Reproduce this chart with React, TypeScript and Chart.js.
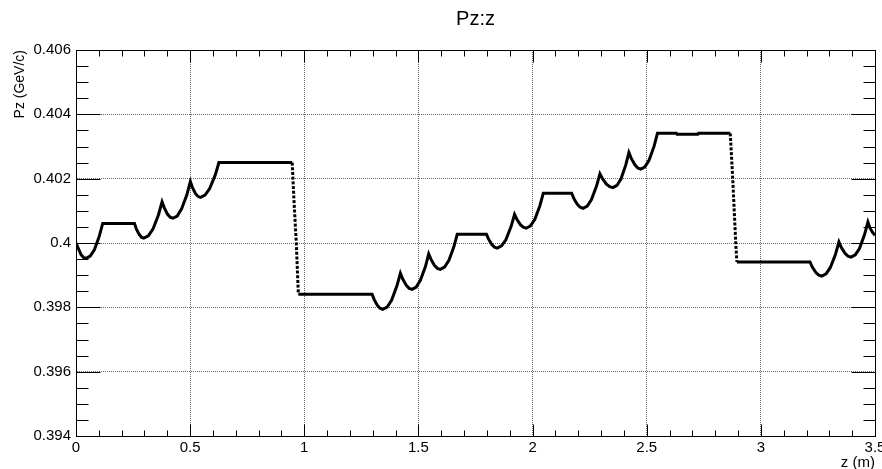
import React, { useEffect, useRef } from "react";
import { Chart, registerables } from "chart.js";

Chart.register(...registerables);

// ---- data (z in m, Pz in GeV/c) ----
const segment1: [number, number][] = [
  [0, 0.4], [0.022, 0.39964], [0.033, 0.39955], [0.044, 0.39952], [0.0623, 0.39959], [0.0805, 0.39979],
  [0.1024, 0.40022], [0.117, 0.40061], [0.256, 0.40061],
  [0.2642, 0.40044], [0.2765, 0.40027], [0.2868, 0.40018], [0.297, 0.40015], [0.317, 0.40022],
  [0.337, 0.40043], [0.361, 0.40087], [0.377, 0.40128],
  [0.3864, 0.4011], [0.4005, 0.4009], [0.4123, 0.4008], [0.424, 0.40077], [0.4433, 0.40084],
  [0.4625, 0.40106], [0.4856, 0.4015], [0.501, 0.40191],
  [0.5098, 0.40173], [0.523, 0.40154], [0.534, 0.40145], [0.545, 0.40142], [0.5653, 0.40149],
  [0.5855, 0.40169], [0.6098, 0.40211], [0.626, 0.4025], [0.947, 0.4025],
];

const drop1: [number, number][] = [
  [0.947, 0.4025], [0.955, 0.4013], [0.965, 0.4], [0.974, 0.39841],
];

const segment2: [number, number][] = [
  [0.974, 0.39841], [1.297, 0.39841],
  [1.3063, 0.39824], [1.3203, 0.39806], [1.3319, 0.39797], [1.3435, 0.39794], [1.3629, 0.39801],
  [1.3823, 0.39822], [1.4055, 0.39866], [1.421, 0.39906],
  [1.4312, 0.39888], [1.4465, 0.39869], [1.4593, 0.39859], [1.472, 0.39856], [1.4903, 0.39863],
  [1.5085, 0.39884], [1.5304, 0.39926], [1.545, 0.39966],
  [1.5552, 0.39949], [1.5705, 0.3993], [1.5833, 0.39921], [1.596, 0.39918], [1.6145, 0.39925],
  [1.633, 0.39945], [1.6552, 0.39988], [1.67, 0.40027], [1.798, 0.40027],
  [1.8074, 0.40012], [1.8215, 0.39995], [1.8333, 0.39987], [1.845, 0.39984], [1.864, 0.39991],
  [1.883, 0.4001], [1.9058, 0.40051], [1.921, 0.40089],
  [1.9312, 0.40074], [1.9465, 0.40057], [1.9593, 0.40049], [1.972, 0.40046], [1.9908, 0.40053],
  [2.0095, 0.40073], [2.032, 0.40116], [2.047, 0.40155], [2.171, 0.40155],
  [2.181, 0.40138], [2.196, 0.4012], [2.2085, 0.40111], [2.221, 0.40108], [2.2395, 0.40115],
  [2.258, 0.40135], [2.2802, 0.40177], [2.295, 0.40215],
  [2.3064, 0.402], [2.3235, 0.40183], [2.3378, 0.40175], [2.352, 0.40172], [2.3695, 0.40179],
  [2.387, 0.40199], [2.408, 0.40242], [2.422, 0.40281],
  [2.4324, 0.40263], [2.448, 0.40243], [2.461, 0.40233], [2.474, 0.4023], [2.4923, 0.40237],
  [2.5105, 0.40258], [2.5324, 0.40301], [2.547, 0.40341],
  [2.63, 0.40341], [2.633, 0.40338], [2.724, 0.40338], [2.727, 0.40341], [2.866, 0.40341],
];

const drop2: [number, number][] = [
  [2.866, 0.40341], [2.877, 0.40196], [2.89, 0.4], [2.895, 0.39941],
];

const segment3: [number, number][] = [
  [2.895, 0.39941], [3.215, 0.39941],
  [3.2254, 0.39925], [3.241, 0.39908], [3.254, 0.399], [3.267, 0.39897], [3.2858, 0.39904],
  [3.3045, 0.39924], [3.327, 0.39965], [3.342, 0.40003],
  [3.3526, 0.39986], [3.3685, 0.39968], [3.3818, 0.39959], [3.395, 0.39956], [3.4135, 0.39963],
  [3.432, 0.39983], [3.4542, 0.40026], [3.469, 0.40065],
  [3.478, 0.40047], [3.49, 0.40032], [3.5, 0.40024],
];

const xTickValues = [0, 0.5, 1, 1.5, 2, 2.5, 3, 3.5];
const xTickLabels = ["0", "0.5", "1", "1.5", "2", "2.5", "3", "3.5"];
const yTickValues = [0.394, 0.396, 0.398, 0.4, 0.402, 0.404, 0.406];
const yTickLabels = ["0.394", "0.396", "0.398", "0.4", "0.402", "0.404", "0.406"];

const X_MIN = 0, X_MAX = 3.5, Y_MIN = 0.394, Y_MAX = 0.406;
const X_MINOR = 0.1, X_MINOR_COUNT = 35, X_MAJOR_EVERY = 5;
const Y_MINOR = 0.0005, Y_MINOR_COUNT = 24, Y_MAJOR_EVERY = 4;

const FONT = "'Liberation Sans', Arial, Helvetica, sans-serif";

const toXY = (arr: [number, number][]) => arr.map(([x, y]) => ({ x, y }));

const frameTicks = {
  id: "frameTicks",
  afterDraw(chart: any) {
    const { ctx, chartArea: a, scales } = chart;
    const xs = scales.x, ys = scales.y;
    const L = Math.round(a.left) + 0.5;
    const R = Math.round(a.right) + 0.5;
    const T = Math.round(a.top) + 0.5;
    const B = Math.round(a.bottom) + 0.5;
    ctx.save();
    ctx.strokeStyle = "#000";
    ctx.lineWidth = 1;
    ctx.setLineDash([]);
    ctx.beginPath();
    ctx.rect(L, T, R - L, B - T);
    for (let i = 0; i <= X_MINOR_COUNT; i++) {
      const px = Math.round(xs.getPixelForValue(X_MIN + i * X_MINOR)) + 0.5;
      const len = i % X_MAJOR_EVERY === 0 ? 12 : 6;
      ctx.moveTo(px, B); ctx.lineTo(px, B - len);
      ctx.moveTo(px, T); ctx.lineTo(px, T + len);
    }
    for (let i = 0; i <= Y_MINOR_COUNT; i++) {
      const py = Math.round(ys.getPixelForValue(Y_MIN + i * Y_MINOR)) + 0.5;
      const len = i % Y_MAJOR_EVERY === 0 ? 24 : 12;
      ctx.moveTo(L, py); ctx.lineTo(L + len, py);
      ctx.moveTo(R, py); ctx.lineTo(R - len, py);
    }
    ctx.stroke();
    ctx.restore();
  },
};

export default function App() {
  const ref = useRef<HTMLCanvasElement>(null);

  useEffect(() => {
    if (!ref.current) return;
    Chart.defaults.font.family = FONT;
    Chart.defaults.color = "#000";
    const solid = { borderColor: "#000", borderWidth: 3, pointRadius: 0, tension: 0, fill: false };
    const dotted = { ...solid, borderDash: [3, 1.7] };
    const chart = new Chart(ref.current, {
      type: "line",
      data: {
        datasets: [
          { data: toXY(segment1), ...solid },
          { data: toXY(drop1), ...dotted },
          { data: toXY(segment2), ...solid },
          { data: toXY(drop2), ...dotted },
          { data: toXY(segment3), ...solid },
        ] as any,
      },
      options: {
        responsive: false,
        devicePixelRatio: 1,
        animation: false,
        layout: { autoPadding: false, padding: { left: 0, right: 7, top: 0, bottom: 0 } },
        plugins: {
          legend: { display: false },
          tooltip: { enabled: false },
          title: {
            display: true,
            text: "Pz:z",
            fullSize: false,
            color: "#000",
            font: { family: FONT, size: 20, weight: "normal", lineHeight: 1.2 },
            padding: { top: 7, bottom: 19 },
          },
        },
        scales: {
          x: {
            type: "linear",
            min: X_MIN,
            max: X_MAX,
            afterBuildTicks: (s: any) => { s.ticks = xTickValues.map((v) => ({ value: v })); },
            afterFit: (s: any) => { s.height = 33; s.paddingLeft = 0; s.paddingRight = 0; },
            ticks: {
              callback: (_v: any, i: number) => xTickLabels[i],
              font: { family: FONT, size: 15 },
              color: "#000",
              padding: 3,
              maxRotation: 0,
              autoSkip: false,
            },
            grid: { color: "#666", lineWidth: 1, drawTicks: false },
            border: { display: true, color: "#000", width: 1, dash: [1, 1] },
            title: {
              display: true,
              text: "z (m)",
              align: "end",
              color: "#000",
              font: { family: FONT, size: 15, lineHeight: 13 / 15 },
              padding: { top: 0, bottom: 0 },
            },
          },
          y: {
            type: "linear",
            min: Y_MIN,
            max: Y_MAX,
            afterBuildTicks: (s: any) => { s.ticks = yTickValues.map((v) => ({ value: v })); },
            afterFit: (s: any) => { s.width = 76; s.paddingTop = 0; s.paddingBottom = 0; },
            ticks: {
              callback: (_v: any, i: number) => yTickLabels[i],
              font: { family: FONT, size: 15 },
              color: "#000",
              padding: 5,
              autoSkip: false,
            },
            grid: { color: "#666", lineWidth: 1, drawTicks: false },
            border: { display: true, color: "#000", width: 1, dash: [1, 1] },
            title: {
              display: true,
              text: "Pz (GeV/c)",
              align: "end",
              color: "#000",
              font: { family: FONT, size: 14, lineHeight: 1.2 },
              padding: { top: 12, bottom: 0 },
            },
          },
        },
      } as any,
      plugins: [frameTicks],
    });
    return () => chart.destroy();
  }, []);

  return (
    <div style={{ position: "absolute", left: 0, top: 0, width: 882, height: 469 }}>
      <canvas ref={ref} width={882} height={469} style={{ display: "block", width: 882, height: 469 }} />
    </div>
  );
}
